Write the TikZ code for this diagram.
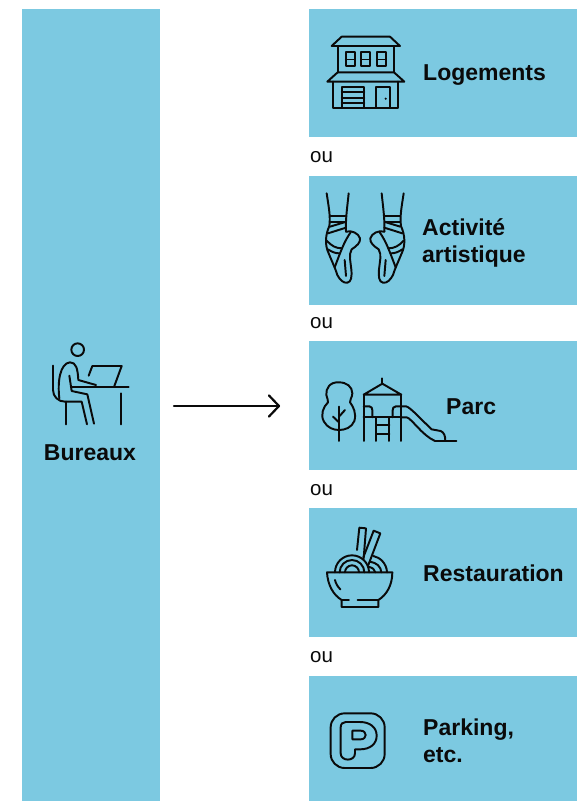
\documentclass[tikz,border=0pt]{standalone}
\usepackage{fontspec}
\setmainfont{Liberation Sans}
\definecolor{panel}{HTML}{7CC9E1}
\definecolor{ink}{HTML}{0A0A0A}
\tikzset{
  panelbox/.style={fill=panel,draw=none,inner sep=0pt,outer sep=0pt,minimum width=#1},
  label/.style={font=\fontsize{23}{27.5}\selectfont\bfseries,text=ink,align=left,anchor=west,inner sep=0pt},
  ou/.style={font=\fontsize{20.5}{22}\selectfont,text=ink,anchor=west,inner sep=0pt},
  icon/.style={draw=ink,line width=1.95pt,line join=round,line cap=round,fill=none},
  zoomed/.style={scale=1/3}
}
\begin{document}
\begin{tikzpicture}[x=1pt,y=-1pt]
\useasboundingbox (0,0) rectangle (577,801);
% panels
\node[panelbox=138pt,minimum height=792pt,anchor=north west] (left) at (22,9) {};
\node[panelbox=268pt,minimum height=128pt,anchor=north west] (p1) at (309,9) {};
\node[panelbox=268pt,minimum height=129pt,anchor=north west] (p2) at (309,176) {};
\node[panelbox=268pt,minimum height=129pt,anchor=north west] (p3) at (309,341) {};
\node[panelbox=268pt,minimum height=129pt,anchor=north west] (p4) at (309,508) {};
\node[panelbox=268pt,minimum height=125pt,anchor=north west] (p5) at (309,676) {};
% labels
\node[label,anchor=center] (lb) at (90,453) {Bureaux};
\node[label] (l1) at (423,75) {Logements};
\node[label] (l2) at (422,243) {Activité\\artistique};
\node[label] (l3) at (446,407) {Parc};
\node[label] (l4) at (423,573) {Restauration};
\node[label] (l5) at (423,741) {Parking,\\etc.};
\node[ou] (o1) at (310,157) {ou};
\node[ou] (o2) at (310,323) {ou};
\node[ou] (o3) at (310,490) {ou};
\node[ou] (o4) at (310,657) {ou};
% arrow
\coordinate (as) at (174,406);
\coordinate (ae) at (279,406);
\draw[ink,line width=2.2pt,line cap=round,line join=round] (as) -- (ae);
\draw[ink,line width=2.2pt,line cap=round,line join=round] ([shift={(-10,-10.5)}]ae) -- (ae) -- ([shift={(-10,10.5)}]ae);
% house
\begin{scope}[shift={(310,10)},zoomed]
\draw[icon] (95,80) -- (240,80) -- (270,108) -- (65,108) -- cycle;
\draw[icon] (83,108) -- (83,187) (252,108) -- (252,187);
\draw[icon] (83,187) -- (252,187) -- (283,215) -- (52,215) -- cycle;
\foreach \a in {107,154,201}{
  \draw[icon] (\a,127) rectangle (\a+27,168);
  \draw[icon,line width=1.6pt] (\a,148) -- (\a+27,148);
}
\draw[icon] (70,215) -- (70,294) -- (265,294) -- (265,215);
\draw[icon] (95,294) -- (95,230) -- (163,230) -- (163,294);
\draw[icon,line width=1.8pt] (95,247) -- (163,247) (95,263) -- (163,263) (95,279) -- (163,279);
\draw[icon] (197,294) -- (197,230) -- (241,230) -- (241,294);
\fill[ink] (227,266) circle (3.5);
\end{scope}
% ballet shoes
\begin{scope}[shift={(310,180)},zoomed]
\foreach \m/\o in {1/0,-1/331}{
\begin{scope}[xshift=\o pt,xscale=\m]
\draw[icon] (50,40) .. controls (56,80) and (62,110) .. (58,138) .. controls (46,165) and (44,195) .. (56,220) .. controls (64,240) and (76,265) .. (82,285) .. controls (90,300) and (100,310) .. (112,308) .. controls (124,306) and (126,290) .. (124,268) .. controls (122,245) and (115,225) .. (125,208) .. controls (140,198) and (152,188) .. (150,175) .. controls (146,160) and (125,150) .. (108,155);
\draw[icon] (116,40) .. controls (112,80) and (106,120) .. (108,155);
\draw[icon] (62,107) -- (106,107);
\draw[icon] (62,126) -- (106,126);
\draw[icon] (60,140) -- (106,126);
\draw[icon] (54,160) -- (108,143);
\draw[icon] (122,157) .. controls (102,185) and (92,215) .. (74,262);
\draw[icon] (50,182) .. controls (65,198) and (78,205) .. (96,205);
\draw[icon] (54,208) .. controls (66,216) and (76,220) .. (88,220);
\draw[icon] (104,240) -- (108,288);
\end{scope}}
\end{scope}
% park
\begin{scope}[shift={(310,365)},zoomed]
\draw[icon] (87,52) .. controls (60,50) and (47,70) .. (49,90) .. controls (50,100) and (56,105) .. (54,112) .. controls (40,125) and (30,150) .. (42,170) .. controls (52,188) and (70,195) .. (87,195) .. controls (105,195) and (125,188) .. (133,168) .. controls (140,145) and (130,125) .. (120,112) .. controls (118,104) and (127,98) .. (127,85) .. controls (127,65) and (110,52) .. (87,52) -- cycle;
\draw[icon] (87,125) -- (87,228);
\draw[icon] (69,155) -- (87,172) (105,135) -- (87,155);
\draw[icon] (217,40) -- (217,56);
\draw[icon] (161,89) -- (217,56) -- (274,89) -- cycle;
\draw[icon] (161,89) -- (161,228) (274,89) -- (274,228);
\draw[icon] (161,157) -- (274,157);
\draw[icon] (161,124) -- (178,124) .. controls (185,124) and (187,130) .. (187,136) -- (187,157);
\draw[icon] (274,124) -- (258,124) .. controls (250,124) and (248,130) .. (248,136) -- (248,157);
\draw[icon] (198,157) -- (198,228) (238,157) -- (238,228);
\draw[icon] (198,179) -- (238,179) (198,207) -- (238,207);
\draw[icon] (274,124) -- (288,124) .. controls (300,126) and (330,160) .. (365,193) -- (392,198) .. controls (402,202) and (406,212) .. (406,228);
\draw[icon] (274,157) -- (290,157) .. controls (305,160) and (335,210) .. (375,228) -- (439,228);
\end{scope}
% bowl
\begin{scope}[shift={(315,520)},zoomed]
\draw[icon] (36,157) -- (232,157) .. controls (232,195) and (215,225) .. (190,240) -- (190,261) -- (80,261) -- (80,240) .. controls (55,225) and (38,195) .. (36,157) -- cycle;
\draw[icon] (80,240) -- (102,240) (128,240) -- (190,240);
\draw[icon] (60,180) .. controls (62,190) and (68,200) .. (76,208);
\draw[icon] (60,157) arc (180:360:51);
\draw[icon] (74,157) arc (180:360:37);
\draw[icon] (90,157) arc (180:360:21);
\draw[icon] (175,108) .. controls (195,112) and (215,130) .. (216,157);
\draw[icon] (165,125) .. controls (185,128) and (198,140) .. (199,157);
\draw[icon] (160,140) .. controls (172,143) and (180,148) .. (181,157);
\draw[icon] (126,90) -- (133,23) -- (153,25) -- (146,115);
\draw[icon] (145,112) -- (176,32) -- (196,40) -- (160,135);
\end{scope}
% parking
\begin{scope}[shift={(320,700)},zoomed]
\draw[icon,rounded corners=14pt] (32,40) rectangle (194,204);
\draw[icon] (77,66) -- (120,66) .. controls (150,66) and (170,82) .. (170,107) .. controls (170,132) and (150,148) .. (120,148) -- (105,148) -- (105,160) .. controls (105,185) and (62,185) .. (62,160) -- (62,82) .. controls (62,72) and (68,66) .. (77,66) -- cycle;
\draw[icon] (97,92) -- (122,92) .. controls (142,92) and (142,118) .. (122,118) -- (97,118) -- cycle;
\end{scope}
% desk person
\begin{scope}[shift={(40,335)},zoomed]
\draw[icon] (113,44) circle (19);
\draw[icon] (39,92) -- (39,165) .. controls (39,185) and (55,200) .. (75,200) -- (125,200) -- (141,268);
\draw[icon] (79,200) -- (79,268);
\draw[icon] (58,190) .. controls (52,140) and (60,85) .. (90,82) .. controls (108,82) and (113,100) .. (115,135) -- (168,150);
\draw[icon] (88,122) -- (95,168) -- (142,178) -- (162,266);
\draw[icon] (93,156) -- (266,156);
\draw[icon] (146,122) -- (157,93) -- (245,93) -- (222,156);
\draw[icon] (243,175) -- (243,268);
\end{scope}
\end{tikzpicture}
\end{document}
